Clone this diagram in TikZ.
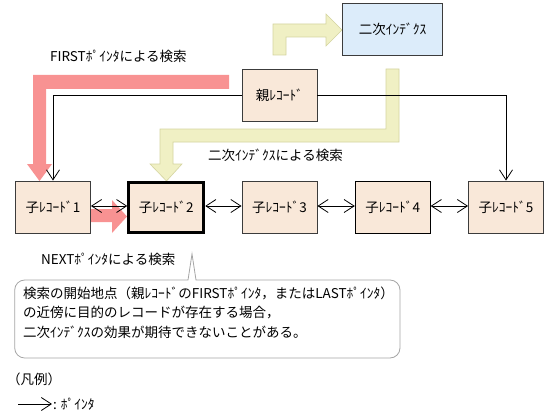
\documentclass[tikz,border=0pt]{standalone}
\usepackage{fontspec}
\setmainfont{Noto Sans CJK JP}
\usetikzlibrary{arrows.meta}
\pgfdeclarelayer{bg}
\pgfsetlayers{bg,main}
\definecolor{recfill}{RGB}{249,232,217}
\definecolor{idxfill}{RGB}{220,236,250}
\definecolor{boxline}{RGB}{60,60,60}
\definecolor{pinkarr}{RGB}{248,146,146}
\definecolor{yelfill}{RGB}{240,240,196}
\definecolor{yelline}{RGB}{212,212,160}
\definecolor{callline}{RGB}{165,165,165}
\tikzset{
  txt/.style={font=\fontsize{13.5}{19.2}\selectfont, inner sep=0pt},
  rec/.style={txt, draw=boxline, line width=0.9pt, fill=recfill, minimum width=75pt, minimum height=52pt},
  ptr/.style={line width=0.8pt, -{Straight Barb[length=10pt,width=13pt,line width=0.8pt]}},
  dptr/.style={line width=0.8pt, {Straight Barb[length=10pt,width=13pt,line width=0.8pt]}-{Straight Barb[length=10pt,width=13pt,line width=0.8pt]}},
  pinkshape/.style={fill=pinkarr, draw=none},
  yelshape/.style={fill=yelfill, draw=yelline, line width=0.6pt},
}
\begin{document}
\begin{tikzpicture}[x=1pt,y=-1pt]
\useasboundingbox (0,0) rectangle (548,417);
% nodes
\node[rec, fill=idxfill, minimum width=100pt] (idx) at (392.5,29.5) {二次ｲﾝﾃﾞｸｽ};
\node[rec] (parent) at (279.5,95.5) {親ﾚｺｰﾄﾞ};
\node[rec] (c1) at (53,207) {子ﾚｺｰﾄﾞ1};
\node[rec, draw=black, line width=3pt, minimum width=75pt, minimum height=50pt] (c2) at (166.25,207) {子ﾚｺｰﾄﾞ2};
\node[rec] (c3) at (279.5,207) {子ﾚｺｰﾄﾞ3};
\node[rec, draw=black] (c4) at (392.75,207) {子ﾚｺｰﾄﾞ4};
\node[rec] (c5) at (506,207) {子ﾚｺｰﾄﾞ5};
% labels
\node[txt, anchor=west] (lfirst) at (50,56) {FIRSTﾎﾟｲﾝﾀによる検索};
\node[txt, anchor=west] (lidx) at (208,155) {二次ｲﾝﾃﾞｸｽによる検索};
\node[txt, anchor=west] (lnext) at (41,259) {NEXTﾎﾟｲﾝﾀによる検索};
% big arrows
\begin{pgfonlayer}{bg}
\path[pinkshape] (229,75) -- (33,75) -- (33,164) -- (27,164) -- (39.5,181) -- (52,164) -- (46,164) -- (46,89) -- (229,89) -- cycle;
\path[pinkshape] (91,209) -- (112,209) -- (112,200) -- (127,216.5) -- (112,233) -- (112,222) -- (91,222) -- cycle;
\path[yelshape] (273,55) -- (273,24) -- (326,24) -- (326,14) -- (342,30) -- (326,46) -- (326,37) -- (286,37) -- (286,55) -- cycle;
\path[yelshape] (386,69) -- (399,69) -- (399,142) -- (173,142) -- (173,164) -- (182,164) -- (166.5,181) -- (150,164) -- (160,164) -- (160,129) -- (386,129) -- cycle;
\end{pgfonlayer}
% pointers
\draw[ptr] (parent.west) -| (c1.north);
\draw[ptr] (parent.east) -| (c5.north);
\draw[dptr] ([yshift=1pt]c1.east) -- ([yshift=1pt]c2.west);
\draw[dptr] ([yshift=1pt]c2.east) -- ([yshift=1pt]c3.west);
\draw[dptr] ([yshift=1pt]c3.east) -- ([yshift=1pt]c4.west);
\draw[dptr] ([yshift=1pt]c4.east) -- ([yshift=1pt]c5.west);
% callout
\draw[callline, line width=0.8pt, fill=white] (196,280) [rounded corners=10pt] -- (400,280) -- (400,358) -- (14.7,358) -- (14.7,280) [sharp corners] -- (188,280) -- (192,254) -- cycle;
\node[txt, anchor=north west, align=left] (note) at (23,287) {検索の開始地点（親ﾚｺｰﾄﾞのFIRSTﾎﾟｲﾝﾀ，またはLASTﾎﾟｲﾝﾀ）\\の近傍に目的のレコードが存在する場合，\\二次ｲﾝﾃﾞｸｽの効果が期待できないことがある。};
% legend
\node[txt, anchor=west] (leg) at (7,379) {（凡例）};
\coordinate (la) at (18,404);
\coordinate (lb) at (52,404);
\draw[ptr] (la) -- (lb);
\node[txt, anchor=west] (legt) at (53,404) {: ﾎﾟｲﾝﾀ};
\end{tikzpicture}
\end{document}
